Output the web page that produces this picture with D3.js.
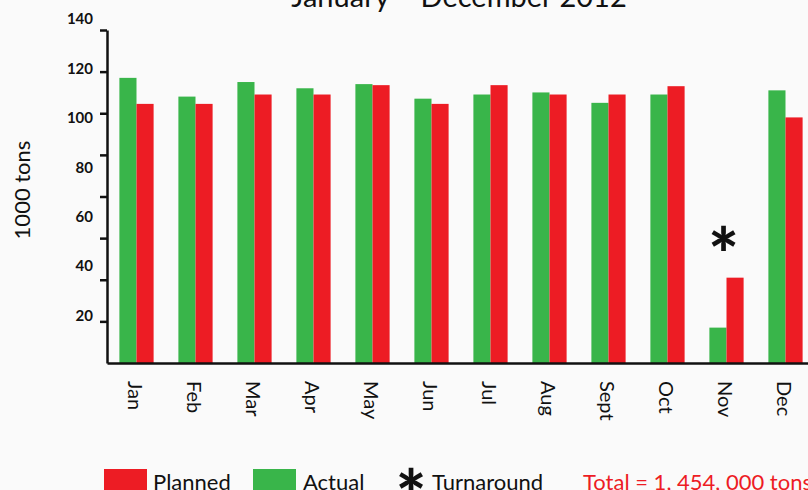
<!DOCTYPE html>
<html>
<head>
<meta charset="utf-8">
<script src="https://cdn.jsdelivr.net/npm/d3@7"></script>
<style>
  html, body { margin: 0; padding: 0; background: #fafafa; overflow: hidden; }
  svg { display: block; font-family: Lato, "Open Sans", sans-serif; }
</style>
</head>
<body>
<div id="chart"></div>
<script>
// monthly tonnage, 1000 tons
const months = ["Jan", "Feb", "Mar", "Apr", "May", "Jun", "Jul", "Aug", "Sept", "Oct", "Nov", "Dec"];
const actual = [137, 128, 135, 132, 134, 127, 129, 130, 125, 129, 17, 131];
const planned = [124.5, 124.5, 129, 129, 133.5, 124.5, 133.5, 129, 129, 133, 41, 118];
const tickMarks = [20, 40, 60, 80, 100, 120, 140, 160];
const tickLabels = [20, 40, 60, 80, 100, 120, 140];
const turnaroundMonth = "Nov";
const titleText = "January \u2013 December 2012";
const totalText = "Total = 1, 454, 000 tons";

const width = 808, height = 490;
const red = "#ed1c24", green = "#39b54a";

const svg = d3.select("#chart").append("svg")
  .attr("width", width)
  .attr("height", height);

svg.append("rect").attr("width", width).attr("height", height).attr("fill", "#fafafa");

// scales
const x = d3.scaleBand().domain(months).range([107, 815]).paddingInner(0.42).paddingOuter(0.21);
const sub = d3.scaleBand().domain(["actual", "planned"]).range([0, x.bandwidth()]);
const y = d3.scaleLinear().domain([0, 160]).range([363, 30]);
// tick labels in the original sit on their own spacing, not on the tick marks
const labelY = d3.scaleLinear().domain([20, 140]).range([315.5, 19]);

// title (cut off at top)
svg.append("text")
  .attr("x", 459).attr("y", 7)
  .attr("text-anchor", "middle")
  .attr("font-size", 29)
  .attr("fill", "#111")
  .text(titleText);

// bars
const groups = svg.selectAll("g.month")
  .data(months)
  .join("g")
  .attr("class", "month")
  .attr("transform", d => `translate(${x(d)},0)`);

groups.append("rect")
  .attr("x", sub("actual"))
  .attr("width", sub.bandwidth())
  .attr("y", (d, i) => y(actual[i]))
  .attr("height", (d, i) => y(0) - y(actual[i]))
  .attr("fill", green);

groups.append("rect")
  .attr("x", sub("planned"))
  .attr("width", sub.bandwidth())
  .attr("y", (d, i) => y(planned[i]))
  .attr("height", (d, i) => y(0) - y(planned[i]))
  .attr("fill", red);

// turnaround marker
const ti = months.indexOf(turnaroundMonth);
svg.append("text")
  .attr("x", x(turnaroundMonth) + x.bandwidth() / 2 - 3)
  .attr("y", y(planned[ti]) + 3)
  .attr("text-anchor", "middle")
  .attr("font-size", 72)
  .attr("font-weight", 900)
  .attr("fill", "#111")
  .text("*");

// y axis
const yAxis = svg.append("g")
  .attr("transform", "translate(107,0)")
  .call(d3.axisLeft(y).tickValues(tickMarks).tickSize(7).tickSizeOuter(0).tickFormat(""));
yAxis.selectAll("path, line").attr("stroke", "#111").attr("stroke-width", 2.5);

svg.selectAll("text.ylab")
  .data(tickLabels)
  .join("text")
  .attr("class", "ylab")
  .attr("x", 93)
  .attr("y", d => labelY(d))
  .attr("dy", "0.36em")
  .attr("text-anchor", "end")
  .attr("font-size", 15)
  .attr("font-weight", "bold")
  .attr("fill", "#111")
  .text(d => d);

svg.append("text")
  .attr("transform", "translate(22,190) rotate(-90)")
  .attr("text-anchor", "middle")
  .attr("dy", "0.35em")
  .attr("font-size", 22)
  .attr("fill", "#111")
  .text("1000 tons");

// x axis
const xAxis = svg.append("g")
  .attr("transform", "translate(0,363)")
  .call(d3.axisBottom(x).tickSize(0).tickSizeOuter(0));
xAxis.select(".domain").attr("stroke", "#111").attr("stroke-width", 2.5);
xAxis.selectAll("text")
  .attr("transform", "rotate(90)")
  .attr("x", 18)
  .attr("y", 0)
  .attr("dy", "0.45em")
  .attr("text-anchor", "start")
  .attr("fill", "#111")
  .style("font-family", "Lato, 'Open Sans', sans-serif")
  .style("font-size", "20px");

// legend (cut off at bottom)
const legend = svg.append("g");
legend.append("rect").attr("x", 104).attr("y", 469).attr("width", 43).attr("height", 24).attr("fill", red);
legend.append("text").attr("x", 153).attr("y", 490).attr("font-size", 22).attr("fill", "#111").text("Planned");
legend.append("rect").attr("x", 253).attr("y", 469).attr("width", 43).attr("height", 24).attr("fill", green);
legend.append("text").attr("x", 303).attr("y", 490).attr("font-size", 22).attr("fill", "#111").text("Actual");
legend.append("text").attr("x", 411).attr("y", 523).attr("text-anchor", "middle")
  .attr("font-size", 72).attr("font-weight", 900).attr("fill", "#111").text("*");
legend.append("text").attr("x", 432).attr("y", 490).attr("font-size", 22).attr("fill", "#111").text("Turnaround");
legend.append("text").attr("x", 583).attr("y", 490).attr("font-size", 22).attr("fill", red).text(totalText);
</script>
</body>
</html>
